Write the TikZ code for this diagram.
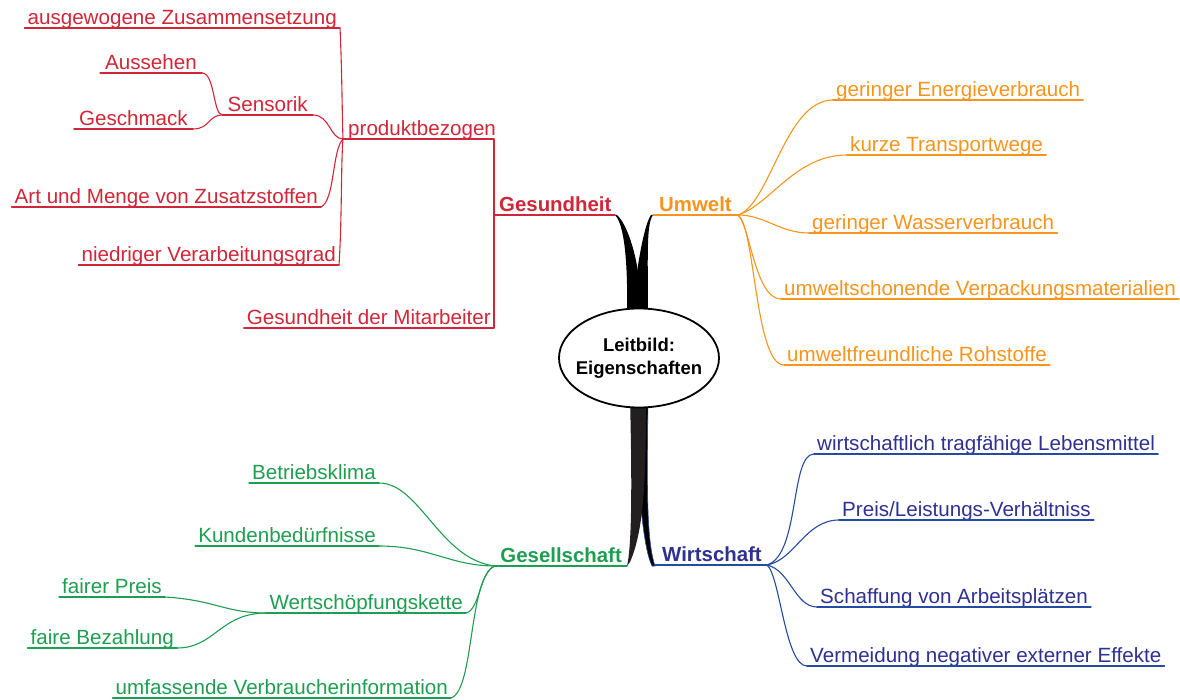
\documentclass[tikz,border=0pt]{standalone}
\usepackage{fontspec}
\setmainfont{Liberation Sans}
\usetikzlibrary{shapes.geometric}
\definecolor{cred}{RGB}{208,38,55}
\definecolor{corange}{RGB}{247,148,30}
\definecolor{cgreen}{RGB}{30,158,80}
\definecolor{cnavy}{RGB}{46,49,146}
\definecolor{cblue}{RGB}{35,75,160}
\definecolor{ctrunk}{RGB}{35,31,32}
\tikzset{
  lbl/.style={font=\fontsize{20.6}{24}\selectfont, inner sep=0pt, inner xsep=3pt, text depth=3pt},
  mainlbl/.style={lbl, font=\fontsize{20.4}{24}\selectfont\bfseries, inner xsep=5pt},
  conn/.style={line width=1.1pt, line cap=round, line join=round},
  redc/.style={conn, draw=cred},
  orac/.style={conn, draw=corange},
  grec/.style={conn, draw=cgreen},
  bluc/.style={conn, draw=cblue}
}
\begin{document}
\begin{tikzpicture}[x=1pt,y=-1pt]
\useasboundingbox (0,0) rectangle (1180,700);

% ---- trunks ----
\fill[black] (615,215) .. controls (624,224) and (628,260) .. (627,315) -- (639,315) -- (638,272) .. controls (634,245) and (625,222) .. (617,215) -- cycle;
\fill[black] (653,215) .. controls (646,224) and (648,260) .. (648,315) -- (637,315) -- (637,272) .. controls (641,245) and (646,222) .. (651,215) -- cycle;
\filldraw[fill=black, draw=cblue, line width=0.6pt] (634,398) -- (648,398) .. controls (647,480) and (646,540) .. (655,566) -- (652,566) .. controls (642,545) and (638,480) .. (634,398) -- cycle;
\fill[ctrunk] (630,398) -- (646,398) .. controls (646,480) and (644,530) .. (630,562) -- (627,566) .. controls (632,545) and (632,480) .. (630,398) -- cycle;

% ---- centre ----
\node[ellipse, draw=black, line width=1.8pt, fill=white, minimum width=160, minimum height=99, inner sep=0pt] (c) at (639,358) {};
\node[align=center, inner sep=0pt, font=\fontsize{18.5}{23}\selectfont\bfseries] (ct) at (c.center) {Leitbild:\\Eigenschaften};

% ---- Gesundheit (red) ----
\begin{scope}[text=cred]
\node[mainlbl, anchor=south west] (ges) at (494,215) {Gesundheit};
\node[lbl, anchor=south west, inner xsep=5pt] (prod) at (343,139) {produktbezogen};
\node[lbl, anchor=south east] (mit) at (494,328) {Gesundheit der Mitarbeiter};
\node[lbl, anchor=south east] (ausg) at (340,28) {ausgewogene Zusammensetzung};
\node[lbl, anchor=south east, inner xsep=5pt] (sens) at (313,115) {Sensorik};
\node[lbl, anchor=south east, inner xsep=5pt] (auss) at (202,73) {Aussehen};
\node[lbl, anchor=south east, inner xsep=5pt] (gesch) at (193,129) {Geschmack};
\node[lbl, anchor=south east] (art) at (321,207) {Art und Menge von Zusatzstoffen};
\node[lbl, anchor=south east] (nied) at (339,265) {niedriger Verarbeitungsgrad};
\end{scope}
\draw[redc] (ges.south west) -- (615,215);
\draw[redc] (prod.south west) -| (ges.south west) |- (mit.south west);
\foreach \n in {ausg,sens,auss,gesch,art,nied} \draw[redc] (\n.south west) -- (\n.south east);
\draw[redc] (ausg.south east) .. controls (342,70) and (342,110) .. (prod.south west);
\draw[redc] (sens.south east) .. controls (330,115) and (330,139) .. (prod.south west);
\draw[redc] (art.south east) .. controls (335,200) and (332,150) .. (prod.south west);
\draw[redc] (nied.south east) .. controls (342,220) and (341,160) .. (prod.south west);
\draw[redc] (auss.south east) .. controls (215,73) and (213,115) .. (sens.south west);
\draw[redc] (gesch.south east) .. controls (210,129) and (208,115) .. (sens.south west);

% ---- Umwelt (orange) ----
\begin{scope}[text=corange]
\node[mainlbl, anchor=south west, inner xsep=6pt] (umw) at (653,215) {Umwelt};
\node[lbl, anchor=south west] (en) at (833,100) {geringer Energieverbrauch};
\node[lbl, anchor=south west] (tr) at (847,155) {kurze Transportwege};
\node[lbl, anchor=south west] (wa) at (809,233) {geringer Wasserverbrauch};
\node[lbl, anchor=south west] (vp) at (781,299) {umweltschonende Verpackungsmaterialien};
\node[lbl, anchor=south west] (ro) at (784,365) {umweltfreundliche Rohstoffe};
\end{scope}
\foreach \n in {umw,en,tr,wa,vp,ro} \draw[orac] (\n.south west) -- (\n.south east);
\draw[orac] (umw.south east) .. controls (770,205) and (785,100) .. (en.south west);
\draw[orac] (umw.south east) .. controls (770,205) and (795,155) .. (tr.south west);
\draw[orac] (umw.south east) .. controls (765,215) and (780,233) .. (wa.south west);
\draw[orac] (umw.south east) .. controls (750,225) and (755,299) .. (vp.south west);
\draw[orac] (umw.south east) .. controls (755,225) and (755,365) .. (ro.south west);

% ---- Wirtschaft (blue) ----
\begin{scope}[text=cnavy]
\node[mainlbl, anchor=south west] (wir) at (657,565) {Wirtschaft};
\node[lbl, anchor=south west] (le) at (814,454) {wirtschaftlich tragfähige Lebensmittel};
\node[lbl, anchor=south west] (pr) at (839,520) {Preis/Leistungs-Verhältniss};
\node[lbl, anchor=south west] (sc) at (817,607) {Schaffung von Arbeitsplätzen};
\node[lbl, anchor=south west] (ve) at (807,666) {Vermeidung negativer externer Effekte};
\end{scope}
\draw[bluc] (655,565) -- (wir.south west);
\foreach \n in {wir,le,pr,sc,ve} \draw[bluc] (\n.south west) -- (\n.south east);
\draw[bluc] (wir.south east) .. controls (800,555) and (790,454) .. (le.south west);
\draw[bluc] (wir.south east) .. controls (795,560) and (805,520) .. (pr.south west);
\draw[bluc] (wir.south east) .. controls (790,570) and (795,607) .. (sc.south west);
\draw[bluc] (wir.south east) .. controls (780,575) and (785,666) .. (ve.south west);

% ---- Gesellschaft (green) ----
\begin{scope}[text=cgreen]
\node[mainlbl, anchor=south east] (gese) at (627,566) {Gesellschaft};
\node[lbl, anchor=south east] (bk) at (379,483) {Betriebsklima};
\node[lbl, anchor=south east] (kb) at (379,546) {Kundenbedürfnisse};
\node[lbl, anchor=south east] (wk) at (466,613) {Wertschöpfungskette};
\node[lbl, anchor=south east] (uv) at (451,698) {umfassende Verbraucherinformation};
\node[lbl, anchor=south east] (fp) at (165,597) {fairer Preis};
\node[lbl, anchor=south east] (fb) at (177,648) {faire Bezahlung};
\end{scope}
\foreach \n in {gese,bk,kb,wk,uv,fp,fb} \draw[grec] (\n.south west) -- (\n.south east);
\draw[grec] (bk.south east) .. controls (420,483) and (440,560) .. (gese.south west);
\draw[grec] (kb.south east) .. controls (430,546) and (450,566) .. (gese.south west);
\draw[grec] (wk.south east) .. controls (480,610) and (480,570) .. (gese.south west);
\draw[grec] (uv.south east) .. controls (475,690) and (468,575) .. (gese.south west);
\draw[grec] (fp.south east) .. controls (215,600) and (225,613) .. (wk.south west);
\draw[grec] (fb.south east) .. controls (215,648) and (220,613) .. (wk.south west);
\end{tikzpicture}
\end{document}
